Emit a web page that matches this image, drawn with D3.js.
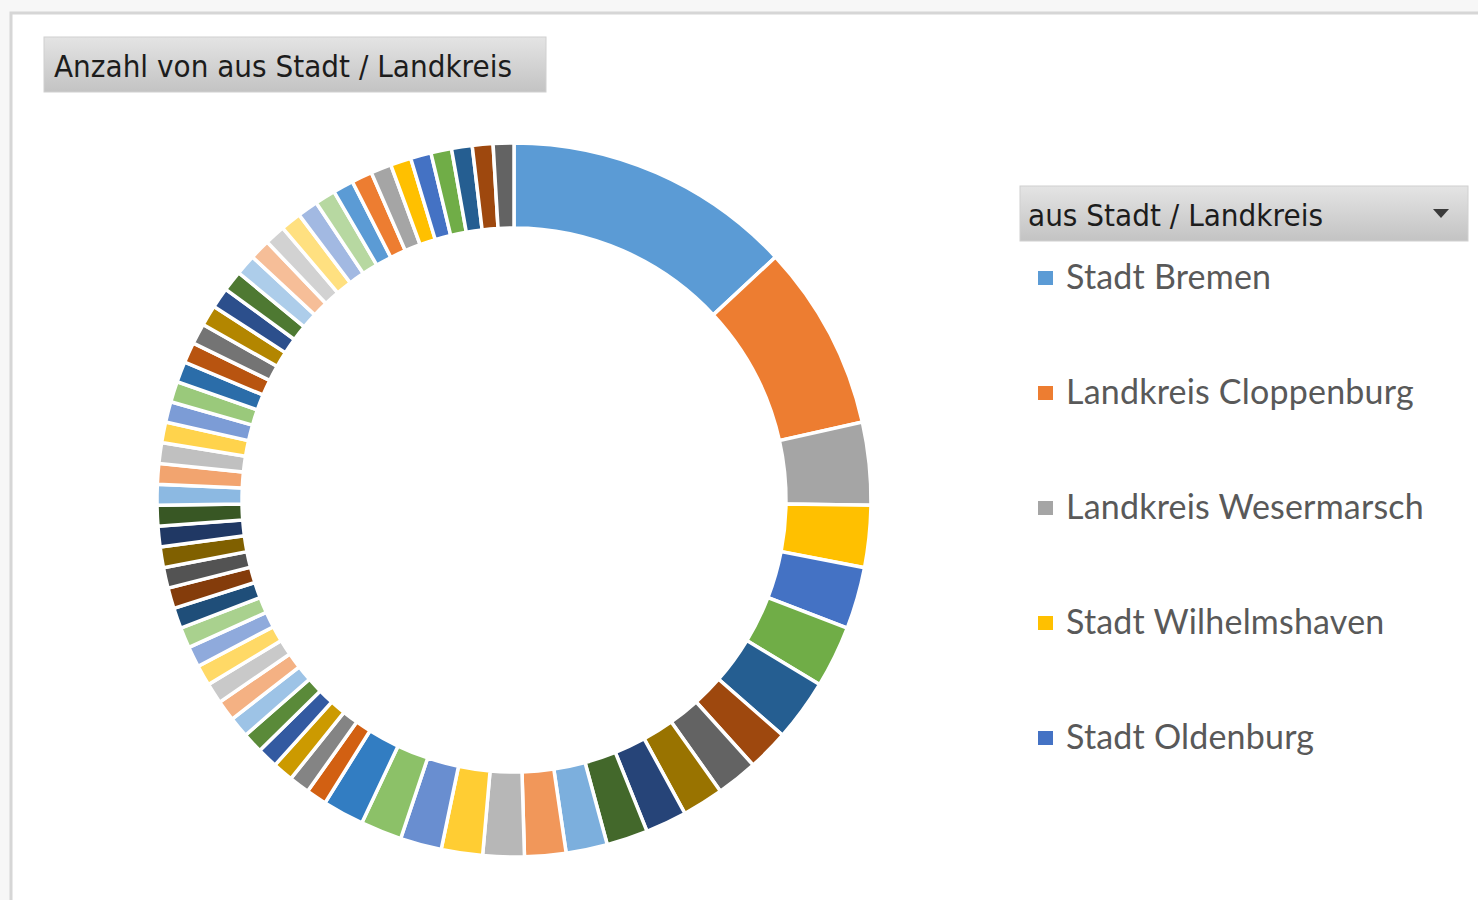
<!DOCTYPE html>
<html>
<head>
<meta charset="utf-8">
<script src="https://cdn.jsdelivr.net/npm/d3@7"></script>
<style>
  html, body { margin: 0; padding: 0; background: #f7f7f7; }
  svg { display: block; }
</style>
</head>
<body>
<div id="chart"></div>
<script>
// --- DATA ---
// counts per Stadt / Landkreis, in pivot order (only the first five names are visible in the legend)
const legendNames = ["Stadt Bremen", "Landkreis Cloppenburg", "Landkreis Wesermarsch", "Stadt Wilhelmshaven", "Stadt Oldenburg"];
const counts = [
  14, 9, 4, 3, 3, 3, 3,
  2, 2, 2, 2, 2, 2, 2, 2, 2, 2, 2, 2,
  1, 1, 1, 1, 1, 1, 1, 1, 1, 1, 1, 1, 1, 1, 1, 1, 1, 1, 1, 1, 1, 1,
  1, 1, 1, 1, 1, 1, 1, 1, 1, 1, 1, 1, 1, 1, 1, 1, 1, 1, 1, 1, 1, 1
];
const chartTitle = "Anzahl von aus Stadt / Landkreis";
const legendTitle = "aus Stadt / Landkreis";

// --- CONFIGURATION ---
const WIDTH = 1478;
const HEIGHT = 900;
const CX = 514, CY = 500;
const R_OUTER = 357, R_INNER = 272;

// Office theme accents + the shade variants Excel cycles through for many points
const ACCENTS = ["#5B9BD5", "#ED7D31", "#A5A5A5", "#FFC000", "#4472C4", "#70AD47"];
const VARIANTS = [[1, 0], [0.6, 0], [0.8, 0.2], [0.8, 0], [0.6, 0.4], [0.5, 0], [0.7, 0.3], [0.7, 0], [0.5, 0.5]];

function pointColor(i) {
    const base = d3.hsl(ACCENTS[i % 6]);
    const [mod, off] = VARIANTS[Math.floor(i / 6) % VARIANTS.length];
    base.l = base.l * mod + off;
    return base.formatHex();
}

const svg = d3.select("#chart")
    .append("svg")
    .attr("width", WIDTH)
    .attr("height", HEIGHT);

const defs = svg.append("defs");
const grad = defs.append("linearGradient")
    .attr("id", "btn").attr("x1", 0).attr("y1", 0).attr("x2", 0).attr("y2", 1);
grad.append("stop").attr("offset", "0%").attr("stop-color", "#e4e4e4");
grad.append("stop").attr("offset", "100%").attr("stop-color", "#c3c3c3");

// chart area frame
svg.append("rect")
    .attr("x", 11).attr("y", 13)
    .attr("width", WIDTH).attr("height", HEIGHT)
    .attr("fill", "#ffffff")
    .attr("stroke", "#d6d6d6")
    .attr("stroke-width", 3);

// pivot field button (title)
svg.append("rect")
    .attr("x", 44).attr("y", 37).attr("width", 502).attr("height", 55)
    .attr("fill", "url(#btn)")
    .attr("stroke", "#d0d0d0").attr("stroke-width", 1);
svg.append("text")
    .attr("x", 54).attr("y", 77)
    .attr("font-family", "'DejaVu Sans', sans-serif")
    .attr("font-size", 31)
    .attr("fill", "#1c1c1c")
    .attr("textLength", 458)
    .attr("lengthAdjust", "spacingAndGlyphs")
    .text(chartTitle);

// --- DONUT ---
const pie = d3.pie().sort(null).value(d => d)
    .startAngle(0).endAngle(2 * Math.PI);
const arc = d3.arc().innerRadius(R_INNER).outerRadius(R_OUTER);

svg.append("g")
    .attr("transform", `translate(${CX},${CY})`)
    .selectAll("path")
    .data(pie(counts))
    .join("path")
    .attr("d", arc)
    .attr("fill", (d, i) => pointColor(i))
    .attr("stroke", "#ffffff")
    .attr("stroke-width", 3.5)
    .attr("stroke-linejoin", "miter");

// --- LEGEND ---
const lg = svg.append("g");
lg.append("rect")
    .attr("x", 1020).attr("y", 186).attr("width", 448).attr("height", 55)
    .attr("fill", "url(#btn)")
    .attr("stroke", "#d0d0d0").attr("stroke-width", 1);
lg.append("text")
    .attr("x", 1028).attr("y", 226)
    .attr("font-family", "'DejaVu Sans', sans-serif")
    .attr("font-size", 31)
    .attr("fill", "#1c1c1c")
    .attr("textLength", 295)
    .attr("lengthAdjust", "spacingAndGlyphs")
    .text(legendTitle);
lg.append("path")
    .attr("d", "M1433,209 L1449,209 L1441,218 Z")
    .attr("fill", "#3a3a3a");

const legendY = d3.scalePoint()
    .domain(legendNames)
    .range([278, 738]);

const items = lg.selectAll("g.item")
    .data(legendNames)
    .join("g")
    .attr("class", "item")
    .attr("transform", d => `translate(1038,${legendY(d)})`);

items.append("rect")
    .attr("x", 0).attr("y", -7).attr("width", 15).attr("height", 14)
    .attr("fill", (d, i) => pointColor(i));

items.append("text")
    .attr("x", 28).attr("y", 11)
    .attr("font-family", "Lato, 'Open Sans', sans-serif")
    .attr("font-size", 34)
    .attr("letter-spacing", 0.2)
    .attr("fill", "#595959")
    .text(d => d);
</script>
</body>
</html>
